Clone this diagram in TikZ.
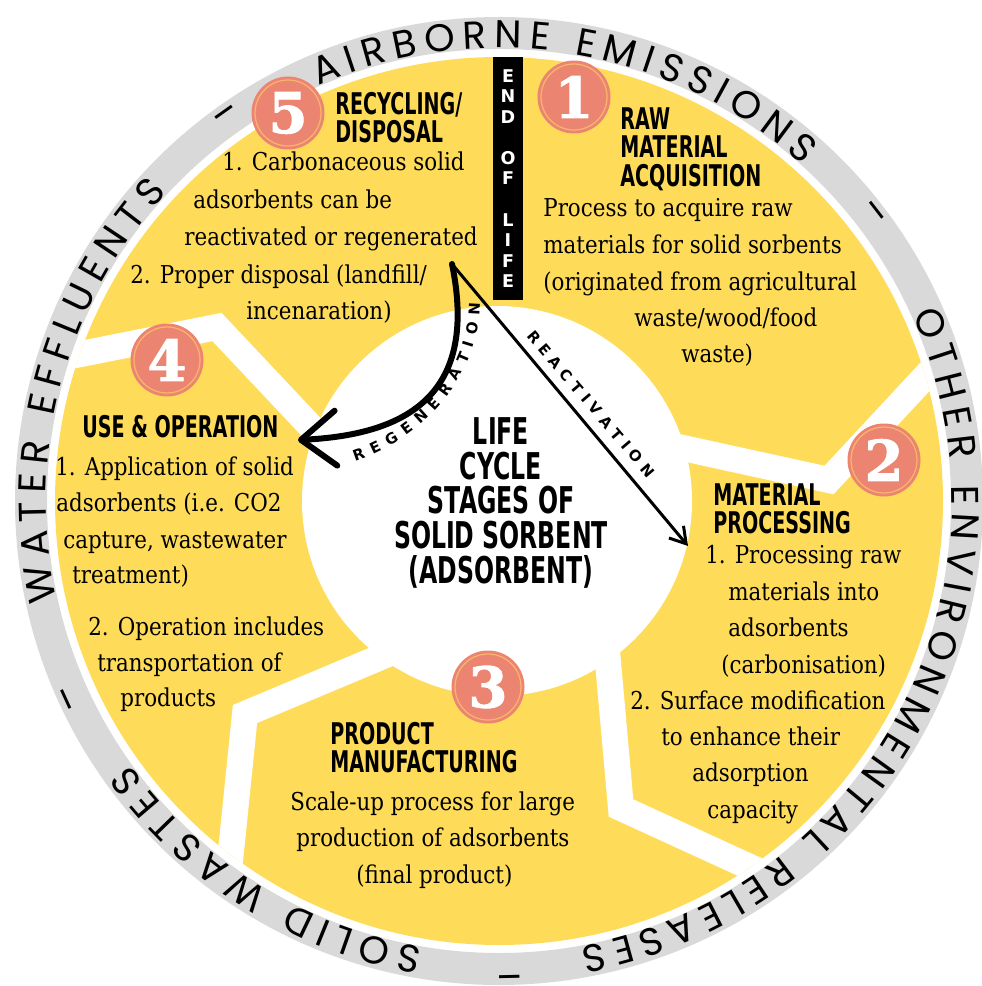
\documentclass[tikz,border=0pt]{standalone}
\usepackage{fontspec}
\usetikzlibrary{arrows.meta,decorations.text}
\newfontfamily\bodyfont[FakeStretch=0.87]{DejaVu Serif}
\newfontfamily\headfont[FakeStretch=0.64]{DejaVu Sans}
\newfontfamily\labfont{DejaVu Sans}
\newfontfamily\ringfont{Poppins}
\newfontfamily\numfont[FakeBold=1.5]{DejaVu Serif}
\definecolor{sunyellow}{HTML}{FEDC5A}
\definecolor{ringgray}{HTML}{D9D9D9}
\definecolor{salmon}{HTML}{EC8472}
\definecolor{badgeline}{HTML}{F8B56C}
\def\ringstyle{\ringfont\fontsize{22}{22}\selectfont}
\def\labstyle{\labfont\bfseries\fontsize{8.5}{10}\selectfont}
\tikzset{
	body/.style={anchor=mid west, inner sep=0pt, font=\bodyfont\fontsize{14}{16}\selectfont},
	heading/.style={anchor=north west, align=left, inner sep=0pt, font=\headfont\bfseries\fontsize{17}{16.2}\selectfont},
	badge/.style={circle, fill=salmon, draw=badgeline, line width=0.25mm, minimum size=1.32cm, inner sep=0pt, preaction={draw=salmon, line width=1.4mm}, text=white, font=\numfont\bfseries\fontsize{32}{32}\selectfont},
	splitter/.style={white, line width=5.2mm, line join=miter},
	ringwords/.style={decorate, decoration={text along path, text align=fit to path, text={|\ringstyle|#1}}},
}
\begin{document}
\begin{tikzpicture}[x=0.02cm, y=-0.02cm]
	\useasboundingbox (0,0) rectangle (981,986);
	\def\cx{499} %centre of the wheel
	\def\cy{501}
	\def\R{444} %radius of the yellow disc
	\def\rb{453} %baseline of the ring text
	
	%RING AND DISC
	\draw[ringgray, line width=6.4mm] (\cx,\cy) circle (468);
	\fill[sunyellow] (\cx,\cy) circle (\R);
	
	%SEPARATORS
	\begin{scope}
		\clip (\cx,\cy) circle (\R);
		\draw[splitter] (660,443) -- (829,480) -- (975,323); %1 to 2
		\draw[splitter] (606,640) -- (621,808) -- (800,890); %2 to 3
		\draw[splitter] (400,649) -- (245,714) -- (225,910); %3 to 4
		\draw[splitter] (330,447) -- (217,327) -- (20,366); %4 to 5
	\end{scope}
	\fill[white] (497,501) circle (195);
	
	%RING TEXT (angles run clockwise because y points down)
	\path[ringwords={SOLID WASTES}] (\cx,\cy) ++(99.7:\rb) arc (99.7:144.5:\rb);
	\path[ringwords={WATER EFFLUENTS}] (\cx,\cy) ++(167.3:\rb) arc (167.3:222.9:\rb);
	\path[ringwords={AIRBORNE EMISSIONS}] (\cx,\cy) ++(246.5:\rb) arc (246.5:312.1:\rb);
	\path[ringwords={OTHER ENVIRONMENTAL RELEASES}] (\cx,\cy) ++(335.7:\rb) arc (335.7:439.6:\rb);
	\foreach \a [count=\i] in {155.4,234.7,322.4,448.7}
		\path (\cx,\cy) ++(\a:470) node[rotate=-\a-90, inner sep=0pt, font=\ringstyle] (dash\i) {–};
	
	%END OF LIFE BAR
	\node[fill=black, text=white, minimum width=0.6cm, minimum height=4.86cm, inner sep=0pt, align=center,
		font=\labfont\bfseries\fontsize{10}{11.7}\selectfont] (eol) at (508,178.5) {E\\N\\D\\~\\O\\F\\~\\L\\I\\F\\E};
	
	%BADGES
	\node[badge] (b1) at (574,97) {1};
	\node[badge] (b2) at (884,460) {2};
	\node[badge] (b3) at (488,687) {3};
	\node[badge] (b4) at (167,360) {4};
	\node[badge] (b5) at (288,113) {5};
	
	%HEADINGS
	\node[heading] (h1) at (620,107) {RAW\\MATERIAL\\ACQUISITION};
	\node[heading] (h2) at (713,483) {MATERIAL\\PROCESSING};
	\node[heading] (h3) at (330,722) {PRODUCT\\MANUFACTURING};
	\node[heading] (h4) at (82,415) {USE \& OPERATION};
	\node[heading] (h5) at (335,92) {RECYCLING/\\DISPOSAL};
	\node[anchor=north, align=center, inner sep=0pt, font=\headfont\bfseries\fontsize{21}{19.8}\selectfont] (title) at (501,417)
		{LIFE\\CYCLE\\STAGES OF\\SOLID SORBENT\\(ADSORBENT)};
	
	%BODY TEXT
	\foreach \px/\py/\txt [count=\i] in {543/213/{Process to acquire raw}, 543/250/{materials for solid sorbents},
		543/287/{(originated from agricultural}, 634/323/{waste/wood/food}, 681/359/{waste)}}
		\node[body] (raw\i) at (\px,\py) {\txt};
	\foreach \px/\py/\txt [count=\i] in {705/560/{1. Processing raw}, 728/597/{materials into}, 728/633/{adsorbents},
		721/670/{(carbonisation)}, 630/706/{2. Surface modification}, 661/742/{to enhance their},
		692/778/{adsorption}, 707/815/{capacity}}
		\node[body] (proc\i) at (\px,\py) {\txt};
	\foreach \px/\py/\txt [count=\i] in {290/807/{Scale-up process for large}, 296/843/{production of adsorbents},
		356/880/{(final product)}}
		\node[body] (manu\i) at (\px,\py) {\txt};
	\foreach \px/\py/\txt [count=\i] in {55/472/{1. Application of solid}, 56/508/{adsorbents (i.e. CO2},
		63/545/{capture, wastewater}, 72/580/{treatment)}, 88/632/{2. Operation includes},
		97/668/{transportation of}, 120/703/{products}}
		\node[body] (use\i) at (\px,\py) {\txt};
	\foreach \px/\py/\txt [count=\i] in {222/167/{1. Carbonaceous solid}, 193/205/{adsorbents can be},
		184/242/{reactivated or regenerated}, 130/280/{2. Proper disposal (landfill/}, 246/316/{incenaration)}}
		\node[body] (rec\i) at (\px,\py) {\txt};
	
	%ARROWS
	\coordinate (fork) at (452,264); %where both arrows leave
	\coordinate (regen) at (298,440);
	\coordinate (react) at (688,546);
	\draw[line width=1.2mm, line cap=round, -{Straight Barb[length=7mm, width=11mm, round]}] (fork) .. controls (480,400) and (400,435) .. (regen); %regeneration
	\draw[line width=0.6mm, -{Straight Barb[length=3.1mm, width=3.8mm]}] (fork) -- (react); %reactivation
	\path[decorate, decoration={text along path, text align=fit to path, text={|\labstyle|REGENERATION}}]
		(355,461) .. controls (420,440) and (479,380) .. (480,303);
	\path[decorate, decoration={text along path, text align=fit to path, text={|\labstyle|REACTIVATION}}]
		(526,336) -- (648,479);
\end{tikzpicture}
\end{document}
